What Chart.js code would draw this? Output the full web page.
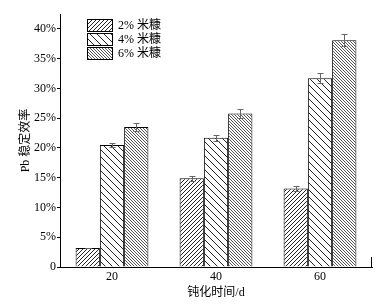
<!DOCTYPE html>
<html>
<head>
<meta charset="utf-8">
<script src="https://cdn.jsdelivr.net/npm/chart.js@4"></script>
<style>
  html, body { margin: 0; padding: 0; background: #fff; }
  #wrap { width: 380px; height: 307px; }
</style>
</head>
<body>
<div id="wrap"><canvas id="chartPb"></canvas></div>
<script>
// datos
const categorias = ['20', '40', '60'];
const etiquetas = ['2% 米糠', '4% 米糠', '6% 米糠'];
const efic2 = [3.2, 14.9, 13.2];
const efic4 = [20.5, 21.7, 31.7];
const efic6 = [23.5, 25.8, 38.1];
const error2 = [0.05, 0.4, 0.45];
const error4 = [0.4, 0.45, 0.85];
const error6 = [0.7, 0.8, 1.0];
const ticksY = [0, 5, 10, 15, 20, 25, 30, 35, 40];

const FUENTE = '"Liberation Serif", "Noto Sans CJK SC", serif';

// tramas rayadas
function trama(tam, dir, color) {
    const c = document.createElement('canvas');
    c.width = tam;
    c.height = tam;
    const ctx = c.getContext('2d');
    ctx.fillStyle = '#fff';
    ctx.fillRect(0, 0, tam, tam);
    ctx.strokeStyle = color;
    ctx.lineWidth = 1;
    ctx.beginPath();
    for (let k = -1; k <= 1; k++) {
        if (dir === '/') {
            ctx.moveTo(k * tam - 1, tam + 1);
            ctx.lineTo(k * tam + tam + 1, -1);
        } else {
            ctx.moveTo(k * tam - 1, -1);
            ctx.lineTo(k * tam + tam + 1, tam + 1);
        }
    }
    ctx.stroke();
    return ctx.createPattern(c, 'repeat');
}

const tramas = [trama(4, '/', '#222'), trama(7, '\\', '#222'), trama(3, '\\', '#555')];
const errores = [error2, error4, error6];

// barras de error + leyenda + marca final del eje x
const extras = {
    id: 'extras',
    afterDatasetsDraw(chart) {
        const ctx = chart.ctx;
        const y = chart.scales.y;
        ctx.save();
        ctx.strokeStyle = '#666';
        ctx.lineWidth = 1;
        chart.data.datasets.forEach((ds, i) => {
            const meta = chart.getDatasetMeta(i);
            meta.data.forEach((bar, j) => {
                const v = ds.data[j];
                const e = errores[i][j];
                const x = Math.round(bar.x) + 0.5;
                const y1 = Math.round(y.getPixelForValue(v + e)) + 0.5;
                const y2 = Math.round(y.getPixelForValue(v - e)) + 0.5;
                ctx.beginPath();
                ctx.moveTo(x, y1); ctx.lineTo(x, y2);
                ctx.moveTo(x - 3, y1); ctx.lineTo(x + 3, y1);
                ctx.moveTo(x - 3, y2); ctx.lineTo(x + 3, y2);
                ctx.stroke();
            });
        });

        // marca al final del eje x
        const a = chart.chartArea;
        ctx.strokeStyle = '#000';
        ctx.beginPath();
        ctx.moveTo(Math.round(a.right) - 0.5, a.bottom);
        ctx.lineTo(Math.round(a.right) - 0.5, a.bottom - 10);
        ctx.stroke();

        // leyenda
        const lx = 87, ly = 19, w = 26, h = 14;
        ctx.font = '12px ' + FUENTE;
        ctx.textBaseline = 'middle';
        ctx.fillStyle = '#000';
        chart.data.datasets.forEach((ds, i) => {
            const top = ly + i * h;
            ctx.fillStyle = ds.backgroundColor;
            ctx.fillRect(lx, top, w, h - 1);
            ctx.strokeStyle = '#000';
            ctx.strokeRect(lx + 0.5, top + 0.5, w - 1, h - 2);
            ctx.fillStyle = '#000';
            ctx.fillText(ds.label, lx + w + 5, top + h / 2);
        });
        ctx.restore();
    }
};

new Chart(
    document.getElementById('chartPb'),
    {
        type: 'bar',
        data: {
            labels: categorias,
            datasets: [
                { label: etiquetas[0], data: efic2, backgroundColor: tramas[0] },
                { label: etiquetas[1], data: efic4, backgroundColor: tramas[1] },
                { label: etiquetas[2], data: efic6, backgroundColor: tramas[2] }
            ].map(ds => Object.assign(ds, {
                borderColor: '#000',
                borderWidth: 1,
                categoryPercentage: 0.7,
                barPercentage: 1
            }))
        },
        options: {
            responsive: true,
            maintainAspectRatio: false,
            animation: false,
            layout: { padding: { left: 0, right: 8, top: 14, bottom: 0 } },
            plugins: {
                legend: { display: false },
                tooltip: { enabled: false }
            },
            scales: {
                x: {
                    grid: { display: false, drawTicks: false },
                    border: { color: '#000', width: 1 },
                    ticks: { color: '#000', padding: 3, font: { family: FUENTE, size: 12 } },
                    title: {
                        display: true,
                        text: '钝化时间/d',
                        color: '#000',
                        font: { family: FUENTE, size: 12 },
                        padding: { top: 0, bottom: 7 }
                    },
                    afterFit(scale) { scale.height = 40; }
                },
                y: {
                    min: 0,
                    max: 42.5,
                    afterBuildTicks(scale) {
                        scale.ticks = ticksY.map(v => ({ value: v }));
                    },
                    grid: { drawOnChartArea: false, tickLength: 3, color: '#000' },
                    border: { color: '#000', width: 1 },
                    ticks: {
                        color: '#000',
                        padding: 1,
                        font: { family: FUENTE, size: 12 },
                        callback: v => v === 0 ? '0' : v + '%'
                    },
                    title: {
                        display: true,
                        text: 'Pb 稳定效率',
                        color: '#000',
                        font: { family: FUENTE, size: 12 },
                        padding: { top: 19, bottom: 0 }
                    },
                    afterFit(scale) { scale.width = 60; }
                }
            }
        },
        plugins: [extras]
    }
);
</script>
</body>
</html>
